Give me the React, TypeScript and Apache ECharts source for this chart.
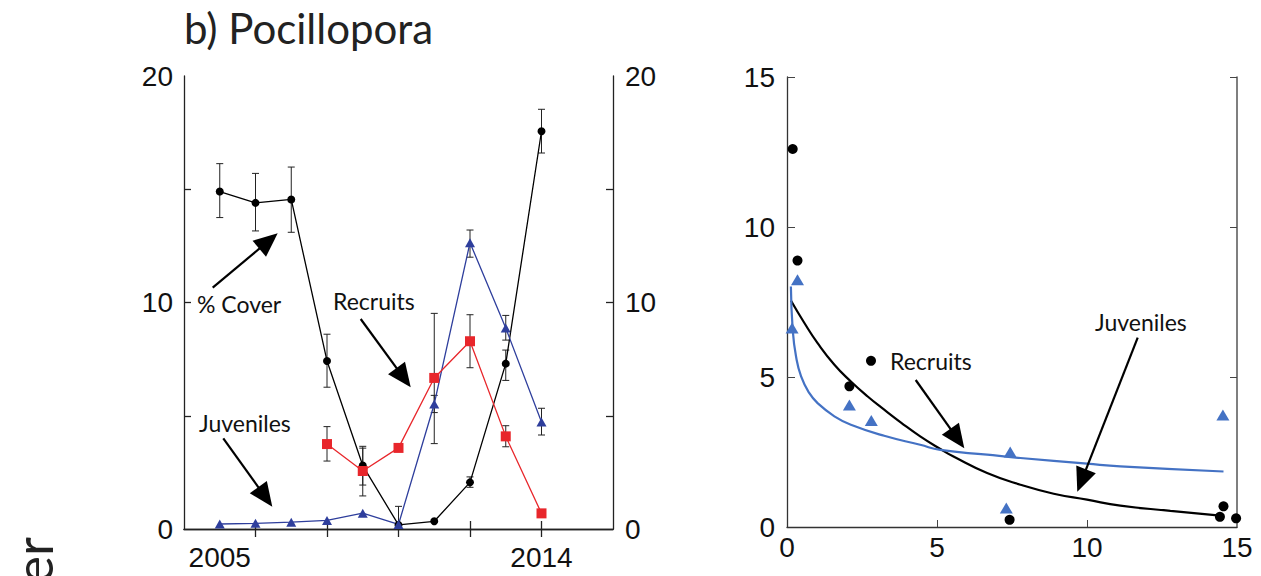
import React, { useEffect, useRef } from "react";
import * as echarts from "echarts";

// ---------- Left panel data (b) Pocillopora time series ----------
const years = [2005, 2006, 2007, 2008, 2009, 2010, 2011, 2012, 2013, 2014];
const coverValues = [14.9, 14.4, 14.55, 7.42, 2.8, 0.18, 0.34, 2.06, 7.3, 17.56];
const coverLow = [13.75, 13.16, 13.1, 6.26, 1.94, null, null, 1.84, 6.56, 16.6];
const coverHigh = [16.13, 15.7, 15.98, 8.6, 3.65, null, null, 2.3, 7.9, 18.53];

const juvValues = [0.22, 0.25, 0.3, 0.38, 0.7, 0.2, 5.52, 12.64, 8.87, 4.72];
const juvLow = [null, null, null, null, null, 0.0, 5.14, 12.0, 8.34, 4.15];
const juvHigh = [null, null, null, null, null, 1.0, 5.9, 13.2, 9.43, 5.33];

const recYears = [2008, 2009, 2010, 2011, 2012, 2013, 2014];
const recValues = [3.75, 2.56, 3.58, 6.67, 8.29, 4.09, 0.69];
const recLow = [3.0, 1.46, null, 3.77, 7.12, 3.63, null];
const recHigh = [4.52, 3.57, null, 9.52, 9.46, 4.56, null];

const leftYTicks = [5, 10, 15];
const leftYLabels = [0, 10, 20];
const leftXTicks = [2006, 2008, 2010, 2012, 2014];
const leftXLabels = [2005, 2014];

// ---------- Right panel data ----------
const rPtsX = [0.19, 0.35, 2.08, 2.8, 7.42, 14.43, 14.55, 14.97];
const rPtsY = [12.6, 8.88, 4.69, 5.54, 0.24, 0.34, 0.69, 0.29];
const jPtsX = [0.17, 0.35, 2.08, 2.81, 7.31, 7.44, 14.53];
const jPtsY = [6.63, 8.24, 4.07, 3.55, 0.63, 2.5, 3.73];

const recFitX = [0.13, 0.58, 1.02, 1.58, 2.13, 2.69, 3.24, 3.8, 4.44, 5.11, 5.55, 6.67, 7.78, 8.89, 10.0, 11.11, 12.78, 14.44];
const recFitY = [7.55, 6.8, 6.13, 5.41, 4.85, 4.35, 3.91, 3.48, 3.02, 2.6, 2.35, 1.8, 1.41, 1.11, 0.91, 0.71, 0.54, 0.38];
const juvFitX = [0.13, 0.19, 0.3, 0.47, 0.74, 1.02, 1.58, 2.13, 3.24, 4.44, 5.11, 6.67, 7.78, 10.0, 11.11, 14.55];
const juvFitY = [8.02, 6.58, 5.69, 5.02, 4.47, 4.13, 3.69, 3.41, 3.04, 2.74, 2.57, 2.41, 2.3, 2.11, 2.02, 1.85];

const rightTicks = [5, 10, 15];
const rightXTicks = [5, 10];

const NUM_FONT = "Liberation Sans, Arial, sans-serif";
const TXT_FONT = "Lato, 'Open Sans', sans-serif";

function zip(xs: number[], ys: number[]) {
  return xs.map((x, i) => [x, ys[i]]);
}

function errRows(xs: number[], lo: (number | null)[], hi: (number | null)[]) {
  const out: number[][] = [];
  xs.forEach((x, i) => {
    if (lo[i] != null && hi[i] != null) out.push([x, lo[i] as number, hi[i] as number]);
  });
  return out;
}

function arrow(tail: number[], tip: number[], len = 24, wid = 21) {
  const dx = tip[0] - tail[0];
  const dy = tip[1] - tail[1];
  const d = Math.sqrt(dx * dx + dy * dy);
  const ux = dx / d, uy = dy / d;
  const bx = tip[0] - ux * len, by = tip[1] - uy * len;
  const px = -uy, py = ux;
  return [
    {
      type: "line",
      shape: { x1: tail[0], y1: tail[1], x2: bx + ux * 2, y2: by + uy * 2 },
      style: { stroke: "#000", lineWidth: 2.2 },
      z: 50,
    },
    {
      type: "polygon",
      shape: {
        points: [
          [tip[0], tip[1]],
          [bx + px * wid / 2, by + py * wid / 2],
          [bx - px * wid / 2, by - py * wid / 2],
        ],
      },
      style: { fill: "#000" },
      z: 50,
    },
  ];
}

function label(text: string, x: number, y: number, size = 23) {
  return {
    type: "text",
    x,
    y,
    z: 50,
    style: {
      text,
      x: 0,
      y: 0,
      font: `${size}px ${TXT_FONT}`,
      fill: "#111",
      align: "left",
      verticalAlign: "middle",
      textAlign: "left",
      textVerticalAlign: "middle",
    },
  };
}

function errorBarSeries(data: number[][], xAxisIndex: number, yAxisIndex: number) {
  return {
    type: "custom",
    xAxisIndex,
    yAxisIndex,
    data,
    z: 1,
    encode: { x: 0, y: [1, 2] },
    renderItem: (_p: any, api: any) => {
      const x = api.value(0);
      const lo = api.value(1);
      const hi = api.value(2);
      const a = api.coord([x, hi]);
      const b = api.coord([x, lo]);
      const w = 3.5;
      const st = { stroke: "#222", lineWidth: 1 };
      return {
        type: "group",
        children: [
          { type: "line", shape: { x1: a[0], y1: a[1], x2: b[0], y2: b[1] }, style: st },
          { type: "line", shape: { x1: a[0] - w, y1: a[1], x2: a[0] + w, y2: a[1] }, style: st },
          { type: "line", shape: { x1: b[0] - w, y1: b[1], x2: b[0] + w, y2: b[1] }, style: st },
        ],
      };
    },
  };
}

const axisLineStyle = { color: "#222", width: 1.3 };

export default function App() {
  const ref = useRef<HTMLDivElement>(null);

  useEffect(() => {
    document.body.style.margin = "0";
    if (!ref.current) return;
    const chart = echarts.init(ref.current, undefined, { renderer: "svg" });

    const errData = [
      ...errRows(years, coverLow, coverHigh),
      ...errRows(years, juvLow, juvHigh),
      ...errRows(recYears, recLow, recHigh),
    ];

    const option: any = {
      animation: false,
      backgroundColor: "#fff",
      grid: [
        { left: 184, top: 76, width: 429, height: 453 },
        { left: 787, top: 77, width: 450, height: 450 },
      ],
      xAxis: [
        {
          gridIndex: 0,
          type: "value",
          min: 2004,
          max: 2016,
          interval: 2,
          position: "bottom",
          axisLine: { show: true, lineStyle: axisLineStyle },
          axisTick: { show: true, inside: true, length: 8, customValues: leftXTicks, lineStyle: axisLineStyle },
          axisLabel: {
            customValues: leftXLabels,
            margin: 14,
            fontFamily: NUM_FONT,
            fontSize: 28,
            color: "#111",
            formatter: (v: number) => String(v),
          },
          splitLine: { show: false },
        },
        {
          gridIndex: 0,
          type: "value",
          min: 2004,
          max: 2016,
          interval: 2,
          position: "top",
          axisLine: { show: true, lineStyle: axisLineStyle },
          axisTick: { show: true, inside: true, length: 8, customValues: leftXTicks, lineStyle: axisLineStyle },
          axisLabel: { show: false },
          splitLine: { show: false },
        },
        {
          gridIndex: 1,
          type: "value",
          min: 0,
          max: 15,
          interval: 5,
          position: "bottom",
          axisLine: { show: true, lineStyle: { color: "#333", width: 1.3 } },
          axisTick: { show: true, inside: true, length: 7, customValues: rightXTicks, lineStyle: { color: "#444" } },
          axisLabel: { margin: 6, fontFamily: NUM_FONT, fontSize: 28, color: "#111" },
          splitLine: { show: false },
        },
      ],
      yAxis: [
        {
          gridIndex: 0,
          type: "value",
          min: 0,
          max: 20,
          interval: 5,
          position: "left",
          axisLine: { show: true, lineStyle: axisLineStyle },
          axisTick: { show: true, inside: true, length: 7, customValues: leftYTicks, lineStyle: axisLineStyle },
          axisLabel: {
            customValues: leftYLabels,
            margin: 11,
            padding: [0, 0, 9, 0],
            fontFamily: NUM_FONT,
            fontSize: 28,
            color: "#111",
          },
          splitLine: { show: false },
        },
        {
          gridIndex: 0,
          type: "value",
          min: 0,
          max: 20,
          interval: 5,
          position: "right",
          axisLine: { show: true, lineStyle: axisLineStyle },
          axisTick: { show: true, inside: true, length: 7, customValues: leftYTicks, lineStyle: axisLineStyle },
          axisLabel: {
            customValues: leftYLabels,
            margin: 12,
            padding: [0, 0, 9, 0],
            fontFamily: NUM_FONT,
            fontSize: 28,
            color: "#111",
          },
          splitLine: { show: false },
        },
        {
          gridIndex: 1,
          type: "value",
          min: 0,
          max: 15,
          interval: 5,
          position: "left",
          axisLine: { show: true, lineStyle: { color: "#333", width: 1.3 } },
          axisTick: { show: true, inside: true, length: 8, customValues: rightTicks, lineStyle: { color: "#444" } },
          axisLabel: {
            margin: 12,
            padding: [0, 0, 10, 0],
            fontFamily: NUM_FONT,
            fontSize: 28,
            color: "#111",
          },
          splitLine: { show: false },
        },
        {
          gridIndex: 1,
          type: "value",
          min: 0,
          max: 15,
          interval: 5,
          position: "right",
          axisLine: { show: true, lineStyle: { color: "#555", width: 1.5 } },
          axisTick: { show: true, inside: true, length: 7, customValues: rightTicks, lineStyle: { color: "#444" } },
          axisLabel: { show: false },
          splitLine: { show: false },
        },
      ],
      series: [
        errorBarSeries(errData, 0, 0),
        {
          name: "% Cover",
          type: "line",
          xAxisIndex: 0,
          yAxisIndex: 0,
          data: zip(years, coverValues),
          symbol: "circle",
          symbolSize: 8,
          lineStyle: { color: "#000", width: 1.3 },
          itemStyle: { color: "#000" },
          z: 3,
        },
        {
          name: "Juveniles",
          type: "line",
          xAxisIndex: 0,
          yAxisIndex: 0,
          data: zip(years, juvValues),
          symbol: "triangle",
          symbolSize: [10, 9],
          lineStyle: { color: "#2E3E9C", width: 1.3 },
          itemStyle: { color: "#2E3E9C" },
          z: 3,
        },
        {
          name: "Recruits",
          type: "line",
          xAxisIndex: 0,
          yAxisIndex: 0,
          data: zip(recYears, recValues),
          symbol: "rect",
          symbolSize: 10,
          lineStyle: { color: "#E8262B", width: 1.3 },
          itemStyle: { color: "#E8262B" },
          z: 4,
        },
        {
          name: "Recruits fit",
          type: "line",
          xAxisIndex: 2,
          yAxisIndex: 2,
          data: zip(recFitX, recFitY),
          smooth: 0.5,
          showSymbol: false,
          symbol: "none",
          lineStyle: { color: "#000", width: 2.2 },
          z: 2,
        },
        {
          name: "Juveniles fit",
          type: "line",
          xAxisIndex: 2,
          yAxisIndex: 2,
          data: zip(juvFitX, juvFitY),
          smooth: 0.5,
          showSymbol: false,
          symbol: "none",
          lineStyle: { color: "#4472C4", width: 2.2 },
          z: 2,
        },
        {
          name: "Recruits pts",
          type: "scatter",
          xAxisIndex: 2,
          yAxisIndex: 2,
          data: zip(rPtsX, rPtsY),
          symbol: "circle",
          symbolSize: 10,
          itemStyle: { color: "#000", opacity: 1 },
          z: 4,
        },
        {
          name: "Juveniles pts",
          type: "scatter",
          xAxisIndex: 2,
          yAxisIndex: 2,
          data: zip(jPtsX, jPtsY),
          symbol: "triangle",
          symbolSize: [13, 11],
          itemStyle: { color: "#4472C4", opacity: 1 },
          z: 4,
        },
      ],
      graphic: [
        {
          type: "text",
          x: 184,
          y: 28,
          style: {
            text: "b) Pocillopora",
            x: 0,
            y: 0,
            font: `42px ${TXT_FONT}`,
            fill: "#222",
            align: "left",
            verticalAlign: "middle",
            textAlign: "left",
            textVerticalAlign: "middle",
          },
        },
        {
          type: "text",
          x: 33,
          y: 537,
          rotation: Math.PI / 2,
          style: {
            text: "Number",
            x: 0,
            y: 0,
            font: `52px ${TXT_FONT}`,
            fill: "#222",
            align: "right",
            verticalAlign: "middle",
            textAlign: "right",
            textVerticalAlign: "middle",
          },
        },
        label("% Cover", 197, 304),
        label("Recruits", 333, 301),
        label("Juveniles", 199, 423),
        label("Recruits", 890, 361),
        label("Juveniles", 1095, 322),
        ...arrow([212.7, 287.7], [277.7, 233.3]),
        ...arrow([360.7, 319], [410.7, 387.3]),
        ...arrow([223.3, 438.3], [272.3, 506.7]),
        ...arrow([915.7, 380], [964.3, 448.3]),
        ...arrow([1137.7, 337.7], [1077.3, 491.7]),
      ],
    };

    chart.setOption(option);
    return () => {
      chart.dispose();
    };
  }, []);

  return <div ref={ref} style={{ width: 1261, height: 576 }} />;
}
